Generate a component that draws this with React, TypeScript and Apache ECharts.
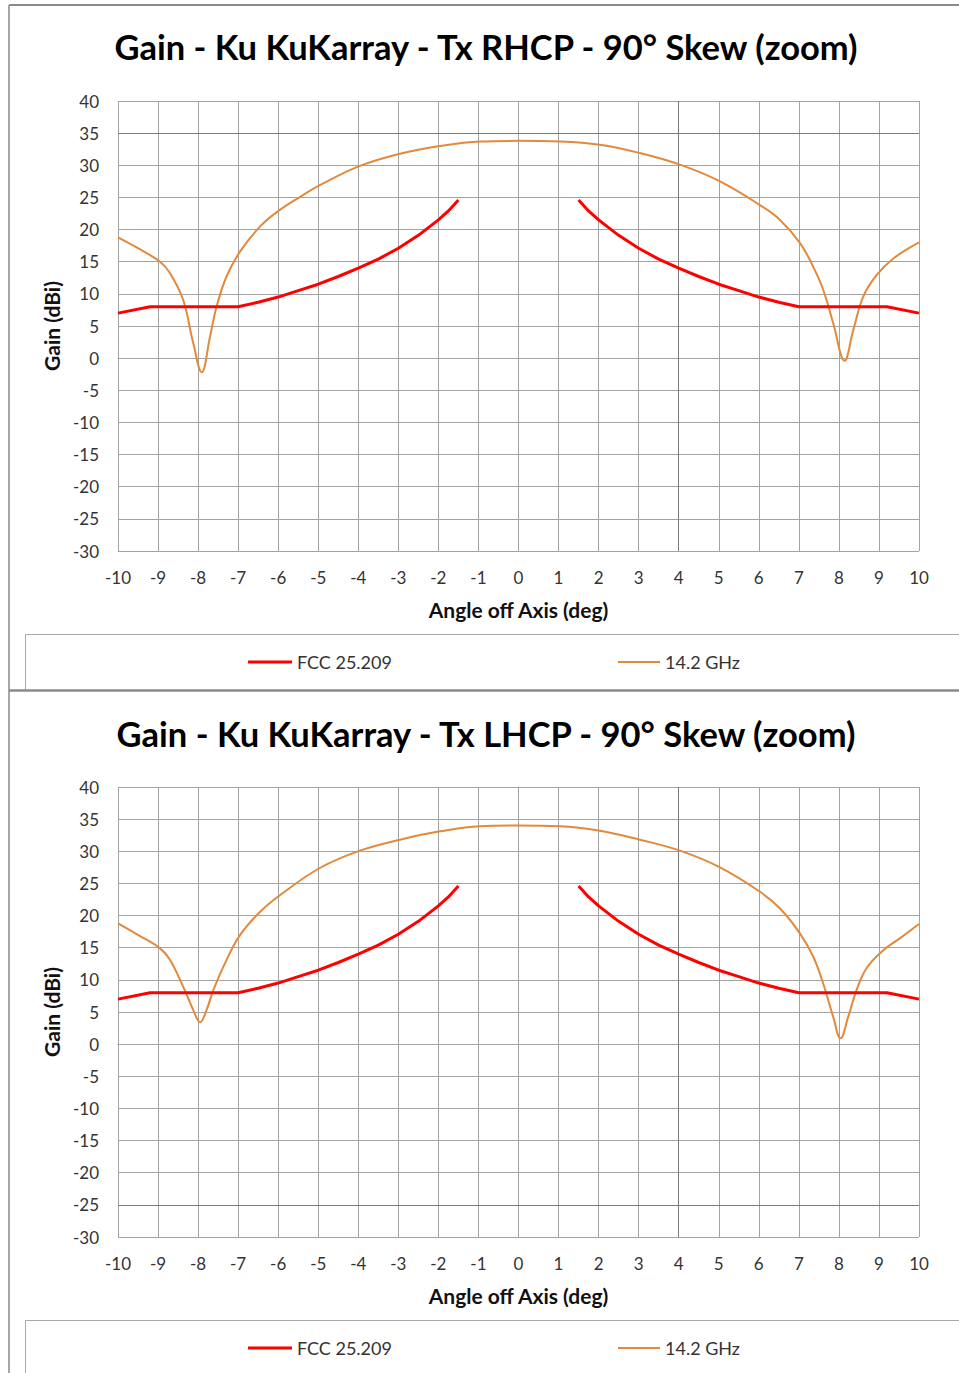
import React, { useEffect, useRef } from "react";
import * as echarts from "echarts";

const FONT = "Lato, 'Noto Sans', sans-serif";

const xTicks = { min: -10, max: 10, interval: 1 };
const yTicks = { min: -30, max: 40, interval: 5 };

const titles = [
  "Gain - Ku KuKarray - Tx RHCP - 90° Skew (zoom)",
  "Gain - Ku KuKarray - Tx LHCP - 90° Skew (zoom)",
];
const xAxisName = "Angle off Axis (deg)";
const yAxisName = "Gain (dBi)";
const fccName = "FCC 25.209";
const measName = "14.2 GHz";

// FCC 25.209 mask (same in both charts); null = gap
const fccAngles = [-10, -9.2, -7, -6.5, -6, -5.5, -5, -4.5, -4, -3.5, -3, -2.5, -2, -1.75, -1.5, 0, 1.5, 1.75, 2, 2.5, 3, 3.5, 4, 4.5, 5, 5.5, 6, 6.5, 7, 9.2, 10];
const fccGain = [7, 8, 8, 8.7, 9.5, 10.5, 11.5, 12.7, 14, 15.4, 17.1, 19.1, 21.5, 22.9, 24.6, null, 24.6, 22.9, 21.5, 19.1, 17.1, 15.4, 14, 12.7, 11.5, 10.5, 9.5, 8.7, 8, 8, 7];

// 14.2 GHz, RHCP
const rhcpAngles = [-10, -9.5, -8.95, -8.7, -8.37, -8.12, -7.91, -7.7, -7.54, -7.29, -6.95, -6.45, -5.95, -5.45, -4.96, -3.96, -2.96, -1.96, -0.96, 0, 1.04, 2.03, 3.03, 4.03, 5.03, 6.03, 6.53, 7.03, 7.36, 7.61, 7.86, 8.14, 8.36, 8.61, 8.94, 9.36, 10];
const rhcpGain = [18.8, 17.1, 15.0, 13.2, 9.0, 2.3, -2.2, 3.4, 8.0, 12.7, 16.6, 20.5, 23.1, 25.1, 26.9, 29.9, 31.8, 33.0, 33.7, 33.8, 33.7, 33.2, 31.9, 30.1, 27.5, 23.8, 21.5, 17.9, 14.2, 10.6, 5.4, -0.4, 4.4, 9.6, 12.9, 15.5, 18.0];

// 14.2 GHz, LHCP
const lhcpAngles = [-10, -9.5, -8.95, -8.7, -8.37, -8.12, -7.95, -7.79, -7.62, -7.29, -6.95, -6.45, -5.95, -4.96, -3.96, -2.96, -1.96, -0.96, 0, 1.04, 2.03, 3.03, 4.03, 5.03, 6.03, 6.53, 7.03, 7.36, 7.61, 7.86, 8.04, 8.23, 8.44, 8.69, 9.11, 9.53, 10];
const lhcpGain = [18.8, 17.0, 14.9, 13.1, 8.9, 5.3, 3.4, 5.3, 8.4, 13.1, 17.0, 20.6, 23.2, 27.4, 30.1, 31.8, 33.1, 33.9, 34.0, 33.9, 33.2, 31.8, 30.1, 27.5, 23.7, 21.1, 17.2, 13.6, 9.4, 4.2, 0.9, 4.2, 8.4, 11.8, 14.6, 16.5, 18.7];

const zip = (xs: number[], ys: (number | null)[]) =>
  xs.map((x, i) => [x, ys[i] === null ? "-" : ys[i]]);

const RED = "#FF0000";
const ORANGE = "#E3893B";
const GRID = "#a3a3a3";
const DARK = "#7a7a7a";
const FRAME = "#8a8a8a";
const LABEL = "#333333";

export default function App() {
  const ref = useRef<HTMLDivElement>(null);

  useEffect(() => {
    if (!ref.current) return;
    const chart = echarts.init(ref.current, undefined, { renderer: "svg" });

    const gridTops = [101, 787];
    const darkY = [35, -25];

    const xAxis = gridTops.map((_, i) => ({
      type: "value",
      gridIndex: i,
      ...xTicks,
      name: xAxisName,
      nameLocation: "middle",
      nameGap: 48,
      nameTextStyle: { fontFamily: FONT, fontWeight: "bold", fontSize: 21, color: "#111" },
      axisLine: { show: true, lineStyle: { color: GRID, width: 1 } },
      axisTick: { show: false },
      axisLabel: { fontFamily: FONT, fontSize: 17, color: LABEL, margin: 18 },
      splitLine: { show: true, lineStyle: { color: GRID, width: 1 } },
    }));

    const yAxis = gridTops.map((_, i) => ({
      type: "value",
      gridIndex: i,
      ...yTicks,
      name: yAxisName,
      nameLocation: "middle",
      nameRotate: 90,
      nameGap: 56,
      nameTextStyle: { fontFamily: FONT, fontWeight: "bold", fontSize: 21, color: "#111" },
      axisLine: { show: true, lineStyle: { color: GRID, width: 1 } },
      axisTick: { show: true, length: 5, lineStyle: { color: GRID } },
      axisLabel: { fontFamily: FONT, fontSize: 17, color: LABEL, margin: 19 },
      splitLine: { show: true, lineStyle: { color: GRID, width: 1 } },
    }));

    const measData = [zip(rhcpAngles, rhcpGain), zip(lhcpAngles, lhcpGain)];

    const series: any[] = [];
    gridTops.forEach((_, i) => {
      series.push({
        name: fccName,
        type: "line",
        xAxisIndex: i,
        yAxisIndex: i,
        data: zip(fccAngles, fccGain),
        symbol: "none",
        connectNulls: false,
        color: RED,
        lineStyle: { color: RED, width: 3 },
        z: 4,
        markLine: {
          silent: true,
          symbol: "none",
          label: { show: false },
          lineStyle: { color: DARK, width: 1, type: "solid" },
          data: [{ xAxis: 4 }, { yAxis: darkY[i] }],
          z: 1,
        },
      });
      series.push({
        name: measName,
        type: "line",
        xAxisIndex: i,
        yAxisIndex: i,
        data: measData[i],
        symbol: "none",
        smooth: 0.4,
        color: ORANGE,
        lineStyle: { color: ORANGE, width: 2 },
        z: 3,
      });
    });

    const legendTops = [653, 1339];
    const legend: any[] = [];
    legendTops.forEach((t) => {
      legend.push({
        data: [fccName],
        left: 248,
        top: t,
        padding: 0,
        icon: "rect",
        itemWidth: 44,
        itemHeight: 3,
        selectedMode: false,
        textStyle: { fontFamily: FONT, fontSize: 18, color: LABEL },
      });
      legend.push({
        data: [measName],
        left: 618,
        top: t,
        padding: 0,
        icon: "rect",
        itemWidth: 42,
        itemHeight: 2,
        selectedMode: false,
        textStyle: { fontFamily: FONT, fontSize: 18, color: LABEL },
      });
    });

    const option: any = {
      animation: false,
      backgroundColor: "#ffffff",
      title: titles.map((t, i) => ({
        text: t,
        left: 486,
        top: [29, 716][i],
        padding: 0,
        textAlign: "center",
        textStyle: { fontFamily: FONT, fontWeight: "bold", fontSize: 34.5, color: "#000" },
      })),
      grid: gridTops.map((t) => ({ left: 118, top: t, width: 801, height: 450 })),
      xAxis,
      yAxis,
      legend,
      series,
      graphic: [
        { type: "line", shape: { x1: 9, y1: 5, x2: 959, y2: 5 }, style: { stroke: FRAME, lineWidth: 2 } },
        { type: "line", shape: { x1: 9, y1: 5, x2: 9, y2: 1373 }, style: { stroke: FRAME, lineWidth: 1.5 } },
        { type: "rect", shape: { x: 25.5, y: 634.5, width: 960, height: 56 }, style: { stroke: "#a8a8a8", fill: "none", lineWidth: 1 } },
        { type: "rect", shape: { x: 25.5, y: 1320.5, width: 960, height: 70 }, style: { stroke: "#a8a8a8", fill: "none", lineWidth: 1 } },
        { type: "line", shape: { x1: 9, y1: 690.5, x2: 959, y2: 690.5 }, style: { stroke: FRAME, lineWidth: 2.5 } },
      ],
    };

    chart.setOption(option);
    return () => chart.dispose();
  }, []);

  return (
    <div
      ref={ref}
      style={{ position: "absolute", left: 0, top: 0, width: 959, height: 1373, background: "#fff" }}
    />
  );
}
